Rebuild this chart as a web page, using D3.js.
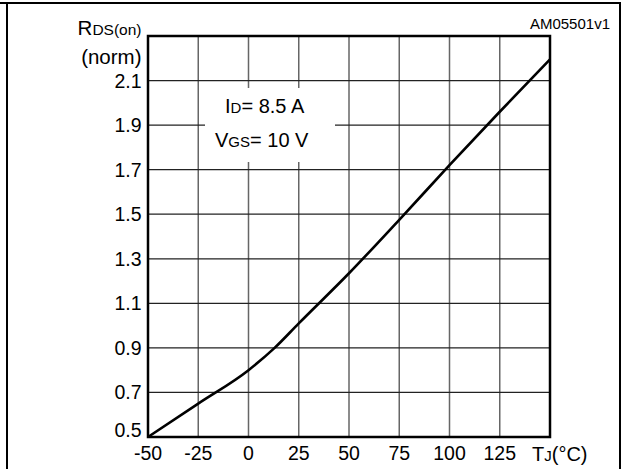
<!DOCTYPE html>
<html>
<head>
<meta charset="utf-8">
<script src="https://cdn.jsdelivr.net/npm/d3@7"></script>
<style>
  html, body { margin: 0; padding: 0; background: #fff; }
  svg { display: block; font-family: "Liberation Sans", Arial, Helvetica, sans-serif; }
</style>
</head>
<body>
<svg id="chart" width="622" height="469"></svg>
<script>
// Junction temperature (°C) and normalized on-resistance
const tempC = [-50, -25, 0, 13, 25, 50, 75, 100, 125, 150];
const rdsNorm = [0.50, 0.65, 0.80, 0.90, 1.01, 1.235, 1.475, 1.72, 1.96, 2.195];

const xTicks = [-50, -25, 0, 25, 50, 75, 100, 125];
const xGrid = [-25, 0, 25, 50, 75, 100, 125];
const yTicks = [0.5, 0.7, 0.9, 1.1, 1.3, 1.5, 1.7, 1.9, 2.1];
const yGrid = [0.7, 0.9, 1.1, 1.3, 1.5, 1.7, 1.9, 2.1];

const svg = d3.select("#chart");

const x = d3.scaleLinear().domain([-50, 150]).range([148, 550]);
const y = d3.scaleLinear().domain([0.5, 2.3]).range([437, 36]);

// outer figure border
svg.append("path")
  .attr("d", "M0,3 H620 V469 M7,3 V469")
  .attr("fill", "none")
  .attr("stroke", "#000")
  .attr("stroke-width", 2);

// grid
const grid = svg.append("g");
grid.selectAll("line.v").data(xGrid).join("line")
  .attr("x1", d => x(d)).attr("x2", d => x(d))
  .attr("y1", y(2.3)).attr("y2", y(0.5))
  .attr("stroke", "#666").attr("stroke-width", 1.5);
grid.selectAll("line.h").data(yGrid).join("line")
  .attr("x1", x(-50)).attr("x2", x(150))
  .attr("y1", d => y(d)).attr("y2", d => y(d))
  .attr("stroke", "#222").attr("stroke-width", 1.3);

// white panel behind the test conditions
svg.append("rect")
  .attr("x", 205).attr("y", 88).attr("width", 130).attr("height", 74)
  .attr("fill", "#fff");

// plot frame
svg.append("rect")
  .attr("x", x(-50)).attr("y", y(2.3))
  .attr("width", x(150) - x(-50)).attr("height", y(0.5) - y(2.3))
  .attr("fill", "none").attr("stroke", "#000").attr("stroke-width", 2.5);

// curve
const line = d3.line()
  .x((d, i) => x(tempC[i]))
  .y(d => y(d))
  .curve(d3.curveMonotoneX);
svg.append("path")
  .datum(rdsNorm)
  .attr("d", line)
  .attr("fill", "none")
  .attr("stroke", "#000")
  .attr("stroke-width", 2.6);

// x tick labels
svg.append("g").selectAll("text").data(xTicks).join("text")
  .attr("x", d => x(d))
  .attr("y", 460)
  .attr("text-anchor", "middle")
  .attr("font-size", 19.5)
  .text(d => d);

// y tick labels (lowest one lifted clear of the x labels)
svg.append("g").selectAll("text").data(yTicks).join("text")
  .attr("x", 141.5)
  .attr("y", d => d === yTicks[0] ? y(d) : y(d) + 7)
  .attr("text-anchor", "end")
  .attr("font-size", 19.5)
  .text(d => d.toFixed(1));

// axis titles
const yTitle = svg.append("text").attr("x", 141.5).attr("y", 35)
  .attr("text-anchor", "end").attr("font-size", 20.5);
yTitle.append("tspan").text("R");
yTitle.append("tspan").attr("font-size", 15.5).text("DS(on)");
svg.append("text").attr("x", 141.5).attr("y", 64)
  .attr("text-anchor", "end").attr("font-size", 20.5).text("(norm)");

const xTitle = svg.append("text").attr("x", 532).attr("y", 461)
  .attr("font-size", 20);
xTitle.append("tspan").text("T");
xTitle.append("tspan").attr("font-size", 15).text("J");
xTitle.append("tspan").text("(°C)");

// test conditions
const c1 = svg.append("text").attr("x", 225).attr("y", 113).attr("font-size", 20);
c1.append("tspan").text("I");
c1.append("tspan").attr("font-size", 15).text("D");
c1.append("tspan").text("= 8.5 A");
const c2 = svg.append("text").attr("x", 215).attr("y", 147).attr("font-size", 20);
c2.append("tspan").text("V");
c2.append("tspan").attr("font-size", 15).text("GS");
c2.append("tspan").text("= 10 V");

// figure code
svg.append("text").attr("x", 610).attr("y", 29)
  .attr("text-anchor", "end").attr("font-size", 15).text("AM05501v1");
</script>
</body>
</html>
